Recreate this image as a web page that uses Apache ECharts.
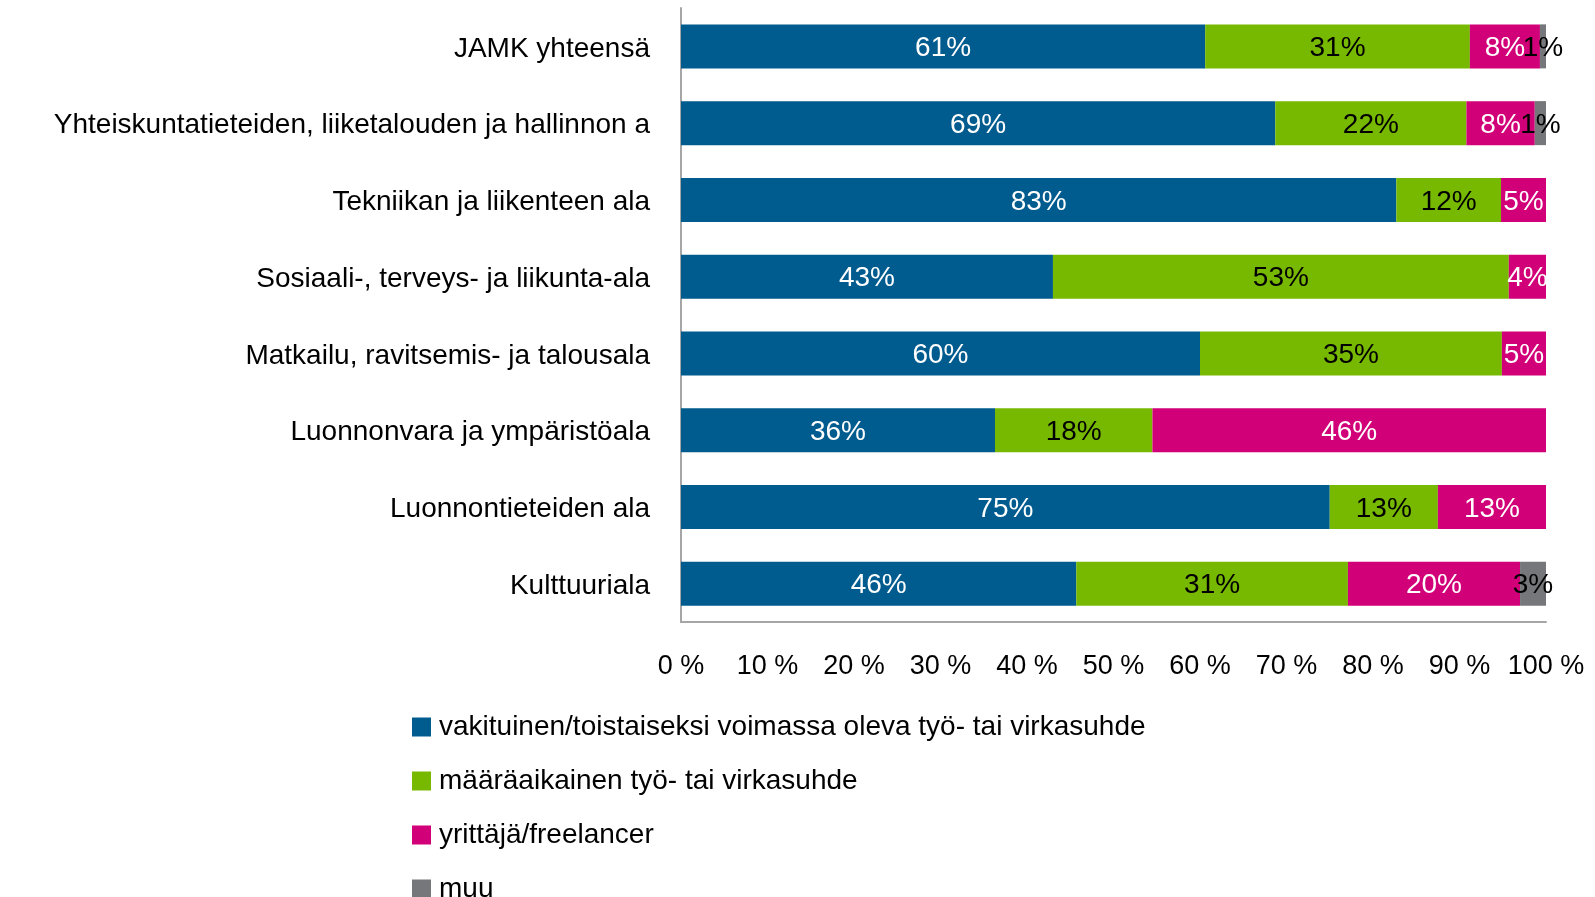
<!DOCTYPE html>
<html>
<head>
<meta charset="utf-8">
<script src="https://cdn.jsdelivr.net/npm/echarts@6/dist/echarts.min.js"></script>
<style>
html,body{margin:0;padding:0;background:#fff;}
#c{width:1595px;height:897px;}
</style>
</head>
<body>
<div id="c"></div>
<script>
var categories = [
  "JAMK yhteensä",
  "Yhteiskuntatieteiden, liiketalouden ja hallinnon a",
  "Tekniikan ja liikenteen ala",
  "Sosiaali-, terveys- ja liikunta-ala",
  "Matkailu, ravitsemis- ja talousala",
  "Luonnonvara ja ympäristöala",
  "Luonnontieteiden ala",
  "Kulttuuriala"
];
var seriesNames = [
  "vakituinen/toistaiseksi voimassa oleva työ- tai virkasuhde",
  "määräaikainen työ- tai virkasuhde",
  "yrittäjä/freelancer",
  "muu"
];
var vakituinen = [60.6, 68.7, 82.7, 43.0, 60.0, 36.3, 75.0, 45.7];
var maaraaikainen = [30.6, 22.1, 12.1, 52.7, 34.9, 18.2, 12.5, 31.4];
var yrittaja = [8.1, 7.9, 5.2, 4.3, 5.1, 45.5, 12.5, 19.9];
var muu = [0.7, 1.3, null, null, null, null, null, 3.0];
var xTicks = [0, 10, 20, 30, 40, 50, 60, 70, 80, 90, 100];

var colors = ["#005B8E", "#77B800", "#D20078", "#76777B"];
var labelColors = ["#ffffff", "#000000", "#ffffff", "#000000"];
var FONT = "'Liberation Sans', Arial, sans-serif";
var allData = [vakituinen, maaraaikainen, yrittaja, muu];

var chart = echarts.init(document.getElementById('c'));
chart.setOption({
  animation: false,
  textStyle: { fontFamily: FONT },
  grid: { left: 681, right: 49, top: 8, bottom: 275, containLabel: false },
  xAxis: {
    type: 'value',
    min: xTicks[0],
    max: xTicks[xTicks.length - 1],
    interval: xTicks[1] - xTicks[0],
    axisLine: { show: true, lineStyle: { color: '#A6A6A6', width: 2 } },
    axisTick: { show: false },
    splitLine: { show: false },
    axisLabel: {
      formatter: '{value} %',
      fontSize: 27, color: '#000', margin: 31, fontFamily: FONT
    }
  },
  yAxis: {
    type: 'category',
    data: categories,
    inverse: true,
    axisLine: { show: true, lineStyle: { color: '#A6A6A6', width: 2 } },
    axisTick: { show: false },
    axisLabel: {
      fontSize: 28, color: '#000', margin: 31, fontFamily: FONT,
      formatter: function (v) { return '{a|' + v + '}'; },
      rich: { a: { fontSize: 28, color: '#000', fontFamily: FONT, padding: [5, 0, 0, 0] } }
    }
  },
  legend: {
    orient: 'vertical',
    left: 407,
    top: 708,
    height: 400,
    itemWidth: 19,
    itemHeight: 19,
    itemGap: 26,
    icon: 'rect',
    data: seriesNames,
    textStyle: { fontSize: 28, color: '#000', lineHeight: 19, fontFamily: FONT, padding: [0, 0, 0, 3] }
  },
  series: allData.map(function (d, i) {
    return {
      name: seriesNames[i],
      type: 'bar',
      stack: 'total',
      data: d,
      barWidth: 44,
      itemStyle: { color: colors[i] },
      label: {
        show: true,
        position: 'inside',
        offset: [0, 2],
        fontSize: 28,
        fontFamily: FONT,
        color: labelColors[i],
        formatter: function (p) {
          if (p.value == null) return '';
          return Math.round(p.value) + '%';
        }
      }
    };
  })
});
</script>
</body>
</html>
